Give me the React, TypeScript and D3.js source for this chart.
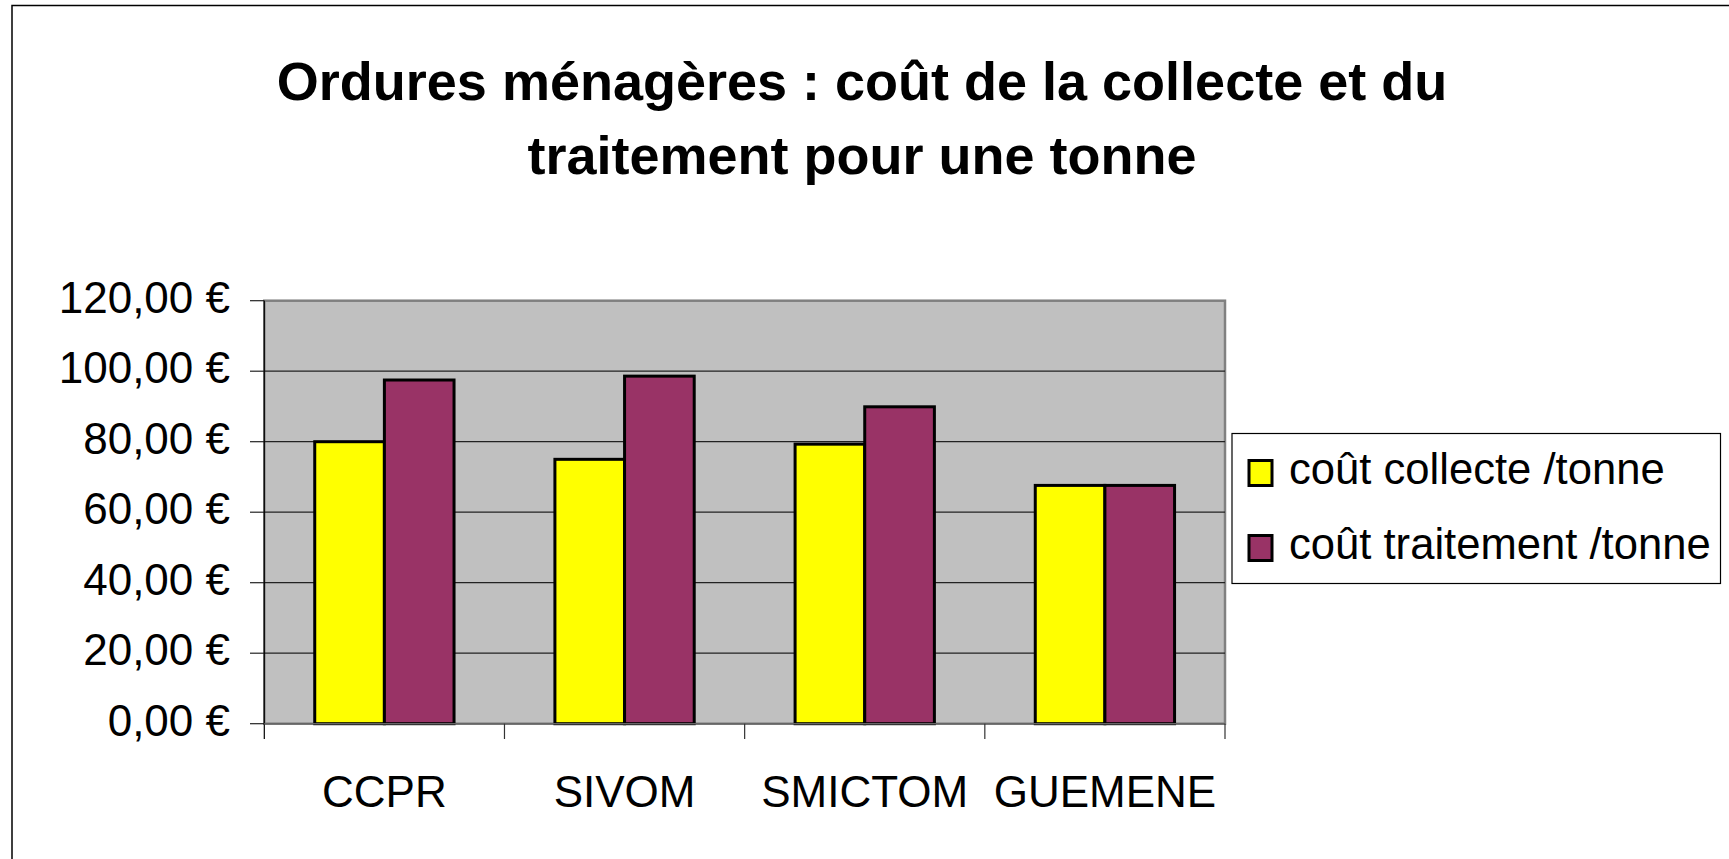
import React from "react";
import * as d3 from "d3";

const titleLines = ["Ordures ménagères : coût de la collecte et du", "traitement pour une tonne"];
const categories = ["CCPR", "SIVOM", "SMICTOM", "GUEMENE"];
const seriesNames = ["coût collecte /tonne", "coût traitement /tonne"];
const collecte = [80.0, 75.0, 79.3, 67.6];
const traitement = [97.5, 98.6, 89.9, 67.6];
const yTicks = [0, 20, 40, 60, 80, 100, 120];
const seriesColors = ["#FFFF00", "#993366"];

const W = 1729;
const H = 859;
const plot = { left: 264.3, right: 1225, top: 300.7, bottom: 723.7 };
const font = "'Liberation Sans', Arial, sans-serif";

const fr = d3.formatLocale({ decimal: ",", thousands: " ", grouping: [3], currency: ["", " €"] });
const fmt = fr.format("$.2f");

export default function App() {
  const x = d3.scaleBand<string>().domain(categories).range([plot.left, plot.right]).paddingInner(0).paddingOuter(0);
  const y = d3.scaleLinear().domain([0, 120]).range([plot.bottom, plot.top]);
  const groupFrac = 0.58;
  const inner = d3
    .scaleBand<number>()
    .domain([0, 1])
    .range([0, x.bandwidth() * groupFrac]);
  const groupOffset = (x.bandwidth() * (1 - groupFrac)) / 2;
  const series = [collecte, traitement];

  return (
    <svg width={W} height={H} style={{ position: "absolute", left: 0, top: 0, background: "#fff" }}>
      <rect x={12} y={5.5} width={W + 20} height={H + 20} fill="#fff" stroke="#000" strokeWidth={1.5} />
      {titleLines.map((t, i) => (
        <text key={i} x={862} y={100 + i * 73.5} textAnchor="middle" fontFamily={font} fontWeight="bold" fontSize={54}>
          {t}
        </text>
      ))}
      <rect x={plot.left} y={plot.top} width={plot.right - plot.left} height={plot.bottom - plot.top} fill="#C0C0C0" stroke="#808080" strokeWidth={2.5} />
      {yTicks.map((t) => (
        <g key={t}>
          {t > 0 && t < 120 && (
            <line x1={plot.left} x2={plot.right} y1={y(t)} y2={y(t)} stroke="#222" strokeWidth={1.2} />
          )}
          <line x1={250} x2={plot.left} y1={y(t)} y2={y(t)} stroke="#222" strokeWidth={1.2} />
          <text x={230} y={y(t) + 12} textAnchor="end" fontFamily={font} fontSize={44}>
            {fmt(t)}
          </text>
        </g>
      ))}
      {categories.map((c, ci) =>
        series.map((s, si) => (
          <rect
            key={c + si}
            x={(x(c) as number) + groupOffset + (inner(si) as number)}
            y={y(s[ci])}
            width={inner.bandwidth()}
            height={y(0) - y(s[ci])}
            fill={seriesColors[si]}
            stroke="#000"
            strokeWidth={3}
          />
        ))
      )}
      <line x1={plot.left} x2={plot.left} y1={plot.top} y2={739} stroke="#000" strokeWidth={1.2} />
      <line x1={plot.left} x2={plot.right} y1={plot.bottom} y2={plot.bottom} stroke="#666" strokeWidth={1.5} />
      {categories.map((c) => (
        <line key={c} x1={(x(c) as number) + x.bandwidth()} x2={(x(c) as number) + x.bandwidth()} y1={plot.bottom} y2={739} stroke="#333" strokeWidth={1.2} />
      ))}
      {categories.map((c) => (
        <text key={c} x={(x(c) as number) + x.bandwidth() / 2} y={807} textAnchor="middle" fontFamily={font} fontSize={44}>
          {c}
        </text>
      ))}
      <rect x={1232} y={433.5} width={488.5} height={150} fill="#fff" stroke="#000" strokeWidth={1.2} />
      {seriesNames.map((n, i) => (
        <g key={n}>
          <rect x={1249} y={460.5 + i * 75} width={23} height={25} fill={seriesColors[i]} stroke="#000" strokeWidth={3} />
          <text x={1289} y={484.3 + i * 75} fontFamily={font} fontSize={43.6}>
            {n}
          </text>
        </g>
      ))}
    </svg>
  );
}
